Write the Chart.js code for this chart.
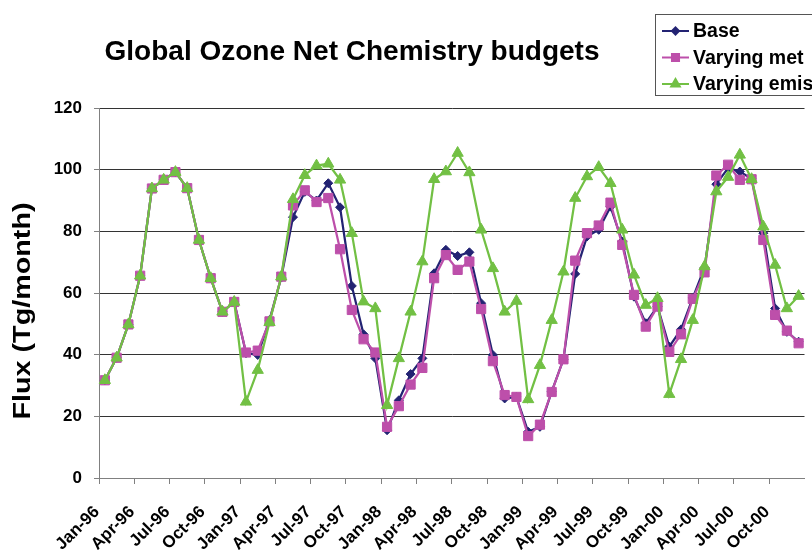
<!DOCTYPE html>
<html>
<head>
<meta charset="utf-8">
<script src="https://cdn.jsdelivr.net/npm/chart.js@4.4.1/dist/chart.umd.min.js"></script>
<style>
  html, body { margin: 0; padding: 0; background: #fff; }
  #wrap { width: 812px; height: 550px; }
</style>
</head>
<body>
<div id="wrap"><canvas id="ozoneChart" width="812" height="550"></canvas></div>
<script>
const FONT = '"Liberation Sans", Arial, Helvetica, sans-serif';

const chartTitle = 'Global Ozone Net Chemistry budgets';
const yTitle = 'Flux (Tg/month)';

const months = [
  'Jan-96','Feb-96','Mar-96','Apr-96','May-96','Jun-96','Jul-96','Aug-96','Sep-96','Oct-96','Nov-96','Dec-96',
  'Jan-97','Feb-97','Mar-97','Apr-97','May-97','Jun-97','Jul-97','Aug-97','Sep-97','Oct-97','Nov-97','Dec-97',
  'Jan-98','Feb-98','Mar-98','Apr-98','May-98','Jun-98','Jul-98','Aug-98','Sep-98','Oct-98','Nov-98','Dec-98',
  'Jan-99','Feb-99','Mar-99','Apr-99','May-99','Jun-99','Jul-99','Aug-99','Sep-99','Oct-99','Nov-99','Dec-99',
  'Jan-00','Feb-00','Mar-00','Apr-00','May-00','Jun-00','Jul-00','Aug-00','Sep-00','Oct-00','Nov-00','Dec-00'
];

const baseFlux = [
  31.7, 39.0, 49.8, 65.6, 93.9, 96.7, 99.2, 94.0, 77.2, 64.8, 53.9, 57.1,
  40.5, 39.9, 51.2, 65.0, 84.6, 92.8, 90.0, 95.6, 87.8, 62.3, 46.6, 38.8,
  15.5, 25.2, 33.7, 38.8, 66.4, 74.0, 72.0, 73.2, 56.7, 39.9, 25.8, 26.3,
  15.0, 16.6, 28.0, 38.5, 66.2, 78.3, 80.5, 88.0, 76.7, 58.8, 50.2, 55.6,
  42.6, 48.2, 58.4, 68.2, 95.3, 100.5, 99.4, 97.0, 79.4, 55.0, 47.4, 44.2
];

const metFlux = [
  31.7, 39.0, 49.8, 65.6, 93.9, 96.7, 99.2, 94.0, 77.2, 64.8, 53.9, 57.1,
  40.7, 41.3, 50.8, 65.3, 88.4, 93.3, 89.5, 90.8, 74.2, 54.5, 45.0, 40.7,
  16.6, 23.3, 30.3, 35.7, 64.8, 72.3, 67.5, 70.2, 54.8, 37.9, 26.9, 26.3,
  13.6, 17.3, 27.9, 38.5, 70.5, 79.4, 81.9, 89.3, 75.6, 59.4, 49.1, 55.6,
  40.9, 46.6, 58.1, 66.7, 98.1, 101.6, 96.7, 96.9, 77.2, 52.9, 47.8, 43.7
];

const emisFlux = [
  31.7, 39.0, 49.8, 65.6, 93.9, 96.7, 99.2, 94.0, 77.2, 64.8, 53.9, 57.1,
  24.7, 35.0, 50.5, 65.3, 90.4, 98.2, 101.3, 101.9, 96.7, 79.4, 57.2, 55.0,
  23.6, 38.8, 53.9, 70.2, 96.9, 99.4, 105.4, 99.1, 80.5, 68.0, 53.9, 57.4,
  25.5, 36.6, 51.2, 66.9, 90.8, 97.8, 100.8, 95.6, 80.5, 65.9, 56.1, 58.3,
  27.2, 38.5, 51.2, 68.6, 92.9, 97.6, 104.8, 96.9, 81.5, 69.1, 55.0, 59.0
];

// draw a line of text centred on (cx, cy), stretched to a given length
function fitText(ctx, text, cx, cy, size, width, angle) {
  ctx.save();
  ctx.font = 'bold ' + size + 'px ' + FONT;
  const w = ctx.measureText(text).width;
  ctx.translate(cx, cy);
  ctx.rotate(angle);
  ctx.scale(width / w, 1);
  ctx.textAlign = 'center';
  ctx.textBaseline = 'middle';
  ctx.fillStyle = '#000';
  ctx.fillText(text, 0, 0);
  ctx.restore();
}

const decorations = {
  id: 'decorations',
  afterDraw(chart) {
    const ctx = chart.ctx;
    fitText(ctx, chartTitle, 352, 52, 28, 495, 0);
    fitText(ctx, yTitle, 24, 311, 23, 217, -Math.PI / 2);

    // legend box, cut off by the right edge like the original
    ctx.save();
    ctx.fillStyle = '#fff';
    ctx.strokeStyle = '#555';
    ctx.lineWidth = 1;
    ctx.fillRect(655.5, 14.5, 200, 81);
    ctx.strokeRect(655.5, 14.5, 200, 81);
    const rows = [31, 57.5, 84];
    const sizes = [3.5, 5, 5];
    chart.data.datasets.forEach((ds, i) => {
      const y = rows[i];
      ctx.strokeStyle = ds.borderColor;
      ctx.lineWidth = 2;
      ctx.beginPath();
      ctx.moveTo(662, y);
      ctx.lineTo(689, y);
      ctx.stroke();
      ctx.fillStyle = ds.backgroundColor;
      Chart.helpers.drawPoint(ctx, {
        pointStyle: ds.pointStyle, radius: sizes[i], rotation: 0, borderWidth: 1
      }, 675.5, y);
      ctx.font = 'bold 19.5px ' + FONT;
      ctx.fillStyle = '#000';
      ctx.textAlign = 'left';
      ctx.textBaseline = 'middle';
      ctx.fillText(ds.label, 693, y + 1);
    });
    ctx.restore();
  }
};

const ctx = document.getElementById('ozoneChart');
const ozoneChart = new Chart(ctx, {
  type: 'line',
  data: {
    labels: months,
    datasets: [
      {
        label: 'Base',
        data: baseFlux,
        borderColor: '#232373',
        backgroundColor: '#232373',
        borderWidth: 2.25,
        pointStyle: 'rectRot',
        pointRadius: 4.5,
        pointBorderWidth: 1,
        order: 2
      },
      {
        label: 'Varying met',
        data: metFlux,
        borderColor: '#BD4FAA',
        backgroundColor: '#BD4FAA',
        borderWidth: 2.25,
        pointStyle: 'rect',
        pointRadius: 6.5,
        pointBorderWidth: 1,
        order: 1
      },
      {
        label: 'Varying emis',
        data: emisFlux,
        borderColor: '#72C044',
        backgroundColor: '#72C044',
        borderWidth: 2.25,
        pointStyle: 'triangle',
        pointRadius: 6.5,
        pointBorderWidth: 1,
        order: 0
      }
    ]
  },
  options: {
    responsive: false,
    animation: false,
    devicePixelRatio: 1,
    layout: {
      padding: { top: 108, right: 5, left: 0, bottom: 0 }
    },
    plugins: {
      legend: { display: false },
      title: { display: false },
      tooltip: { enabled: false }
    },
    scales: {
      x: {
        offset: true,
        afterFit: (scale) => {
          scale.height = 72;
          scale.paddingLeft = 0;
          scale.paddingRight = 0;
        },
        border: { color: '#808080', width: 1 },
        grid: {
          offset: true,
          drawOnChartArea: false,
          drawTicks: true,
          tickLength: 6,
          color: (c) => (c.index % 3 === 0 ? '#808080' : 'rgba(0,0,0,0)')
        },
        ticks: {
          autoSkip: false,
          minRotation: 45,
          maxRotation: 45,
          padding: 18,
          labelOffset: -8,
          color: '#000',
          font: { family: FONT, size: 17, weight: 'bold' },
          callback: function (value, index) {
            return index % 3 === 0 ? this.getLabelForValue(value) : '';
          }
        }
      },
      y: {
        min: 0,
        max: 120,
        afterFit: (scale) => { scale.width = 99; },
        border: { color: '#808080', width: 1 },
        grid: {
          color: '#333',
          tickColor: '#808080',
          tickLength: 5,
          drawTicks: true
        },
        ticks: {
          stepSize: 20,
          padding: 12,
          color: '#000',
          font: { family: FONT, size: 17, weight: 'bold' }
        }
      }
    }
  },
  plugins: [decorations]
});
</script>
</body>
</html>
